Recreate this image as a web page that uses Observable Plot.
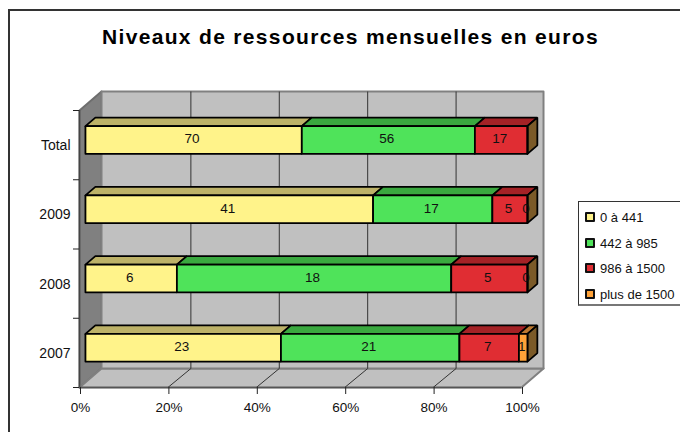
<!DOCTYPE html>
<html>
<head>
<meta charset="utf-8">
<script src="https://cdn.jsdelivr.net/npm/d3@7"></script>
<script src="https://cdn.jsdelivr.net/npm/@observablehq/plot@0.6"></script>
<style>
  html, body { margin: 0; padding: 0; background: #fff; overflow: hidden; width: 680px; height: 432px; }
  body { position: relative; font-family: "Liberation Sans", Arial, sans-serif; color: #111; }
  #frame { position: absolute; left: 8px; top: 9px; width: 700px; height: 460px; border: 2px solid #333; box-sizing: border-box; }
  #chart { position: absolute; left: 0; top: 0; }
  #title { position: absolute; left: 0; width: 700px; top: 24px; text-align: left; padding-left: 102px; box-sizing: border-box;
           font-weight: bold; font-size: 21px; line-height: 26px; letter-spacing: 1.33px; white-space: nowrap; color: #000; }
  #legend { position: absolute; left: 578px; top: 201px; width: 120px; height: 105px; border: 1px solid #333; border-bottom: 2px solid #777; box-sizing: border-box; }
  .item { position: absolute; left: 6px; height: 16px; display: flex; align-items: center; font-size: 13px; white-space: nowrap; }
  .sw { width: 6px; height: 6px; border: 2px solid #111; margin-right: 5px; display: inline-block; border-radius: 1px; }
</style>
</head>
<body>
<div id="frame"></div>
<div id="chart"></div>
<div id="title">Niveaux de ressources mensuelles en euros</div>
<div id="legend"></div>
<script>
// Data (bottom to top)
const categories = ["2007", "2008", "2009", "Total"];
const seriesNames = ["0 à 441", "442 à 985", "986 à 1500", "plus de 1500"];
const low = [23, 6, 41, 70];
const mid = [21, 18, 17, 56];
const high = [7, 5, 5, 17];
const top1500 = [1, 0, 0, null];
const series = [low, mid, high, top1500];

const frontColors = ["#FFF38A", "#4FE35A", "#E02D33", "#FFA238"];
const topColors = ["#BDB268", "#3AA83F", "#A42226", "#BC7830"];
const sideColor = "#7B5A28";
const wallColor = "#C0C0C0";
const shadeColor = "#808080";
const percentTicks = [0, 0.2, 0.4, 0.6, 0.8, 1];

// Oblique depth of the 3-D box, expressed in data units of the two scales
const depthX = 0.0498, depthY = 0.274, gridDepthX = 0.052;
const barNear = 0.27, barFar = 0.72, barHalf = 0.2;
const P = (x, y, d) => ({x: x + d * depthX, y: y + d * depthY});

const polys = [];
const addPoly = (id, fill, stroke, pts) => pts.concat(pts[0]).forEach(p => polys.push({...p, id, fill, stroke}));

const labels = [];
const n = categories.length;
const faces = [];
function addFace(id, fill, pts) {
  pts.concat(pts[0]).forEach(p => faces.push({...p, id, fill}));
}
for (let c = n - 1; c >= 0; c--) {
  const total = d3.sum(series, s => s[c] ?? 0);
  const y0 = c + 0.5 - barHalf, y1 = c + 0.5 + barHalf;
  let acc = 0;
  series.forEach((s, k) => {
    const v = s[c] ?? 0;
    const a = acc / total, b = (acc + v) / total;
    acc += v;
    addFace(`top-${c}-${k}`, topColors[k], [P(a, y1, barNear), P(b, y1, barNear), P(b, y1, barFar), P(a, y1, barFar)]);
    if (s[c] != null) {
      const m = P((a + b) / 2, c + 0.5, barNear);
      labels.push({x: m.x, y: m.y, text: String(s[c])});
    }
  });
  addFace(`side-${c}`, sideColor, [P(1, y0, barNear), P(1, y1, barNear), P(1, y1, barFar), P(1, y0, barFar)]);
  acc = 0;
  series.forEach((s, k) => {
    const v = s[c] ?? 0;
    const a = acc / total, b = (acc + v) / total;
    acc += v;
    addFace(`front-${c}-${k}`, frontColors[k], [P(a, y0, barNear), P(b, y0, barNear), P(b, y1, barNear), P(a, y1, barNear)]);
  });
}

// Box: left wall, floor, back wall
addPoly("left", shadeColor, "#6e6e6e", [P(0, 0, 0), P(0, 0, 1), P(0, n, 1), P(0, n, 0)]);
addPoly("floor", wallColor, shadeColor, [P(0, 0, 0), P(1, 0, 0), P(1, 0, 1), P(0, 0, 1)]);
addPoly("back", wallColor, shadeColor, [P(0, 0, 1), P(1, 0, 1), P(1, n, 1), P(0, n, 1)]);

const inner = percentTicks.slice(1, -1);
const catLabels = categories.map((t, i) => ({y: i + 0.5, t}));

const plot = Plot.plot({
  width: 680,
  height: 432,
  marginLeft: 79,
  marginRight: 159,
  marginTop: 110,
  marginBottom: 45,
  style: {background: "transparent", fontFamily: "'Liberation Sans', Arial, sans-serif", fontSize: "13px", color: "#111"},
  x: {domain: [0, 1], label: null},
  y: {domain: [0, n], label: null},
  marks: [
    Plot.line(polys, {x: "x", y: "y", z: "id", fill: "fill", stroke: "stroke", strokeWidth: 2}),
    Plot.link(inner, {x1: d => d, y1: 0, x2: d => d + gridDepthX, y2: depthY, stroke: "#333", strokeWidth: 1}),
    Plot.link(inner, {x1: d => d + gridDepthX, y1: depthY, x2: d => d + gridDepthX, y2: n + depthY, stroke: "#333", strokeWidth: 1}),
    Plot.ruleX([0], {y1: 0, y2: n, stroke: "#444", strokeWidth: 1.5}),
    Plot.ruleY([0], {x1: 0, x2: 1, stroke: "#555", strokeWidth: 1.5}),
    Plot.line(faces, {x: "x", y: "y", z: "id", fill: "fill", stroke: "#000", strokeWidth: 1.8, strokeLinejoin: "miter"}),
    Plot.text(labels, {x: "x", y: "y", text: "text", fill: "#111", fontSize: 13.5, dx: -1.5, dy: -1}),
    Plot.axisX({ticks: percentTicks, tickFormat: d3.format(".0%"), tickSize: 7, tickPadding: 8, stroke: "#222", fontSize: 13.5, dx: 1, label: null}),
    Plot.axisY({ticks: d3.range(n + 1), tickFormat: () => "", tickSize: 6, stroke: "#222", label: null}),
    Plot.text(catLabels, {x: 0, y: "y", text: "t", textAnchor: "end", dx: -9, dy: 0.5, fill: "#111", fontSize: 14})
  ]
});
document.getElementById("chart").appendChild(plot);

const legend = document.getElementById("legend");
const itemTops = [7, 33, 58, 84];
seriesNames.forEach((name, i) => {
  const el = document.createElement("div");
  el.className = "item";
  el.style.top = itemTops[i] + "px";
  const sw = document.createElement("span");
  sw.className = "sw";
  sw.style.background = frontColors[i];
  el.appendChild(sw);
  el.appendChild(document.createTextNode(name));
  legend.appendChild(el);
});
</script>
</body>
</html>
